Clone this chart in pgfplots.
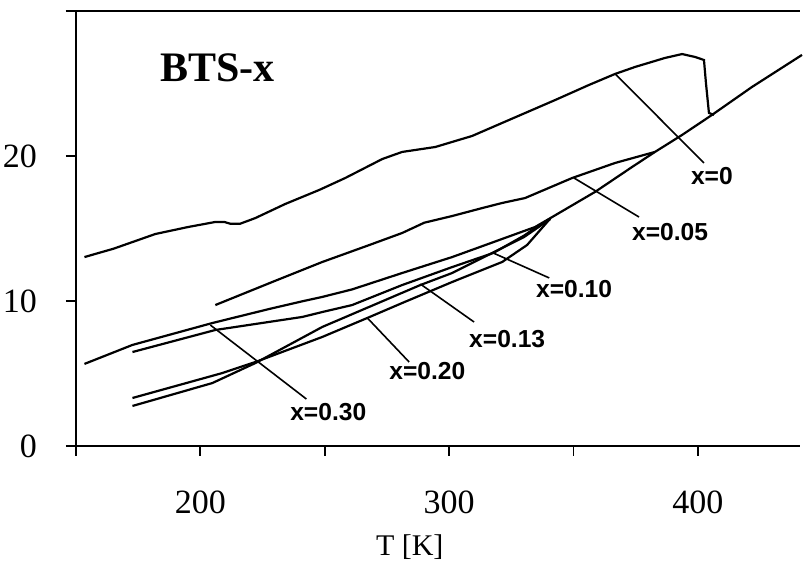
\documentclass[border=0pt]{standalone}
\usepackage{pgfplots}
\pgfplotsset{compat=1.18}
\usepackage{fontspec}
\setmainfont{Liberation Serif}
\newfontfamily\annot{Liberation Sans}
\begin{document}
\begin{tikzpicture}
\begin{axis}[
 scale only axis, width=362pt, height=217.5pt,
 xmin=150, xmax=441, ymin=0, ymax=30,
 axis x line*=bottom, axis y line*=left,
 axis line style={line width=1pt},
 xtick={150,200,250,300,350,400}, xticklabels={,200,,300,,400},
 ytick={0,10,20,30}, yticklabels={0,10,20,},
 tick align=outside, major tick length=5pt,
 tick style={line width=0.9pt, black},
 /pgf/number format/assume math mode=true,
 ticklabel style={font=\fontsize{17}{20}\selectfont},
 xticklabel style={yshift=-14pt},
 yticklabel style={anchor=east, xshift=-11pt},
 clip=false,
]
\coordinate (O) at (rel axis cs:0,0);
\coordinate (TR) at (rel axis cs:1,1);
\draw[line width=1pt] ([xshift=-5pt]rel axis cs:0,1) -- (rel axis cs:1,1);
% x=0
\addplot[black, line width=1.1pt, mark=none] coordinates {
(153.4,13.03) (165,13.6) (181.9,14.62) (195,15.1) (206.0,15.45) (209.6,15.45)
(212,15.33) (216,15.33) (222.1,15.72) (234.1,16.69) (247.8,17.66) (258.2,18.48)
(273.1,19.79) (281.1,20.28) (294.4,20.62) (309.2,21.38) (321.3,22.28) (342.6,23.86)
(356.2,24.90) (366.7,25.66) (374.7,26.14) (386.7,26.76) (393.6,27.03) (398.8,26.83)
(402.4,26.62) (403.2,25.03) (404.4,22.97) (406.4,22.83)};
% x=0.05
\addplot[black, line width=1.1pt, mark=none] coordinates {
(206.0,9.72) (228.9,11.31) (249.0,12.69) (267.9,13.86) (281.1,14.69) (290,15.4)
(301.2,15.86) (313.3,16.41) (321.3,16.76) (330.5,17.10) (349.4,18.48) (366.7,19.52)
(382.7,20.28)};
% x=0.30
\addplot[black, line width=1.1pt, mark=none] coordinates {
(153.4,5.66) (172.7,6.97) (204.8,8.48) (227.7,9.45) (241,9.98) (249.0,10.28)
(261,10.80) (281.1,11.93) (301.2,13.03) (334.5,15.10) (340.6,15.71) (358.6,17.52)
(373.5,19.24) (382.7,20.28) (393.6,21.45) (405.6,22.83) (421.7,24.76) (441.8,26.97)};
% x=0.10
\addplot[black, line width=1.1pt, mark=none] coordinates {
(172.7,6.48) (206.0,8.0) (241,8.9) (249.0,9.24) (261,9.72) (281.1,11.10)
(301.2,12.34) (317.7,13.31) (330,14.5) (336,15.2)};
% x=0.13
\addplot[black, line width=1.1pt, mark=none] coordinates {
(172.7,2.76) (204.8,4.34) (222.1,5.72) (249.0,8.21) (288.4,11.10) (301.2,11.93)
(313.3,12.97) (330,14.4) (340.6,15.65)};
% x=0.20
\addplot[black, line width=1.1pt, mark=none] coordinates {
(172.7,3.31) (208.8,5.03) (222.1,5.79) (249.0,7.52) (267.1,8.83) (281.1,9.86)
(301.2,11.31) (321.3,12.69) (331.3,13.86) (340.6,15.68)};
% leaders
\draw[line width=0.8pt] (axis cs:366.7,25.66) -- (axis cs:402.4,19.52);
\draw[line width=0.8pt] (axis cs:350.2,18.48) -- (axis cs:376.3,15.79);
\draw[line width=0.8pt] (axis cs:317.7,13.31) -- (axis cs:340.2,11.59);
\draw[line width=0.8pt] (axis cs:288.4,11.17) -- (axis cs:310.0,8.55);
\draw[line width=0.8pt] (axis cs:267.1,8.83) -- (axis cs:283.9,5.79);
\draw[line width=0.8pt] (axis cs:204.0,8.34) -- (axis cs:242.6,3.24);
\begin{scope}[every node/.style={font=\annot\bfseries\fontsize{12.3}{14}\selectfont, inner sep=0pt}]
\node at (axis cs:405.6,18.62) {x=0};
\node at (axis cs:388.8,14.76) {x=0.05};
\node at (axis cs:350.2,10.83) {x=0.10};
\node at (axis cs:323.3,7.38) {x=0.13};
\node at (axis cs:291.2,5.17) {x=0.20};
\node at (axis cs:251.4,2.34) {x=0.30};
\end{scope}
\node[font=\bfseries\fontsize{21}{24}\selectfont, inner sep=0pt] at (axis cs:206.8,26.07) {BTS-x};
\node[font=\fontsize{15}{18}\selectfont, inner sep=0pt] at ([yshift=-50.5pt]rel axis cs:0.461,0) {T [K]};
\end{axis}
\pgfresetboundingbox
\path ([shift={(-38pt,-59pt)}]O) rectangle ([shift={(2pt,5.5pt)}]TR);
\end{tikzpicture}
\end{document}
